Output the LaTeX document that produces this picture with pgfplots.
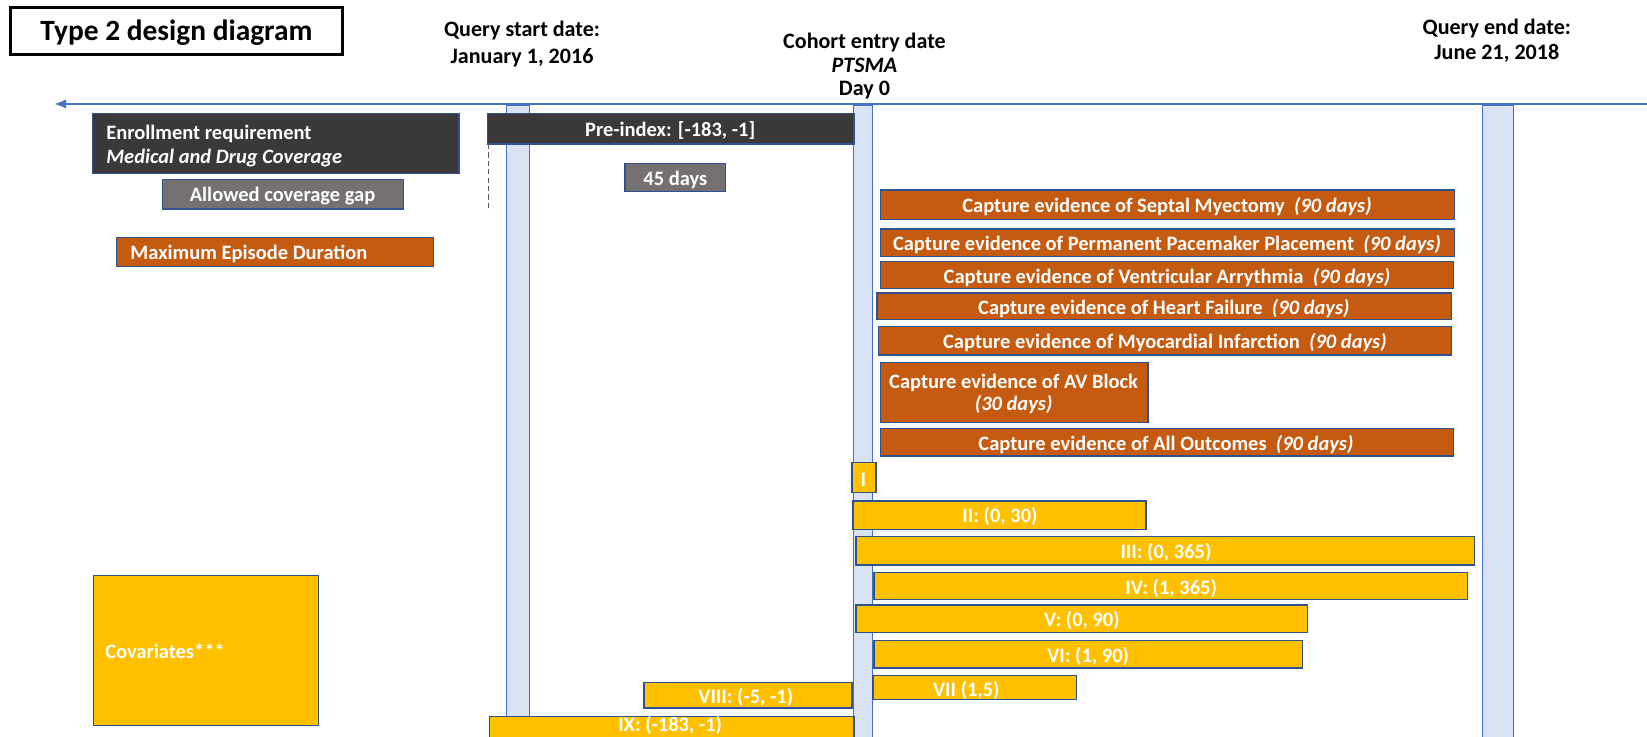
\documentclass[border=0pt]{standalone}
\usepackage{pgfplots}
\pgfplotsset{compat=1.18}
\usepackage{fontspec}
\setmainfont{Carlito}
\usetikzlibrary{arrows.meta}
\definecolor{orng}{HTML}{C55A11}
\definecolor{yel}{HTML}{FFC000}
\definecolor{dark}{HTML}{3B3838}
\definecolor{gry}{HTML}{767171}
\definecolor{lblue}{HTML}{DAE3F3}
\definecolor{blu}{HTML}{4472C4}
\definecolor{bord}{HTML}{2F528F}
\newcommand{\rbox}[5]{\addplot[draw=bord, line width=1.2pt, fill=#5, line join=miter] coordinates {(#1,#2) (#3,#2) (#3,#4) (#1,#4)} -- cycle;}
\tikzset{
  hdr/.style={font=\bfseries\fontsize{21}{26}\selectfont, align=center, text=black, inner sep=0pt},
  bt/.style={font=\bfseries\fontsize{19.5}{22}\selectfont, text=white, inner sep=0pt},
}
\begin{document}
\begin{tikzpicture}
\begin{axis}[width=1568pt, height=701pt, scale only axis,
  xmin=0, xmax=1568, ymin=0, ymax=701, y dir=reverse,
  hide axis, clip=false, no markers]
% timeline arrow
\addplot[blu, line width=1.1pt, -{Latex[length=11pt,width=9pt]}] coordinates {(1568,99) (52,99)};
% vertical bars
\addplot[draw=blu, line width=1pt, fill=lblue] coordinates {(482,100) (504,100) (504,712) (482,712)} -- cycle;
\addplot[draw=blu, line width=1pt, fill=lblue] coordinates {(813,100) (831,100) (831,712) (813,712)} -- cycle;
\addplot[draw=blu, line width=1pt, fill=lblue] coordinates {(1411,100) (1441,100) (1441,712) (1411,712)} -- cycle;
% title box
\addplot[draw=black, line width=2.6pt, fill=white, line join=miter] coordinates {(10,7) (326,7) (326,52) (10,52)} -- cycle;
% enrollment etc
\rbox{88}{108}{437}{165}{dark}
\rbox{464}{108}{813}{137}{dark}
\rbox{155}{171}{384}{199}{gry}
\rbox{595}{156}{691}{182}{gry}
\addplot[black!65, line width=1.5pt, dash pattern=on 5pt off 3pt] coordinates {(465,137) (465,201)};
\rbox{111}{226}{413}{254}{orng}
% outcomes
\rbox{838}{181}{1385}{209}{orng}
\rbox{838}{218}{1385}{244}{orng}
\rbox{838}{249}{1384}{275}{orng}
\rbox{835}{279}{1382}{304}{orng}
\rbox{836}{311}{1382}{338}{orng}
\rbox{838}{345}{1093}{402}{orng}
\rbox{838}{408}{1384}{434}{orng}
% windows
\rbox{811}{440}{834}{469}{yel}
\rbox{812}{477}{1091}{504}{yel}
\rbox{815}{511}{1404}{538}{yel}
\rbox{832}{545}{1397}{571}{yel}
\rbox{815}{576}{1245}{602}{yel}
\rbox{832}{610}{1240}{636}{yel}
\rbox{831}{643}{1025}{666}{yel}
\rbox{613}{650}{811}{674}{yel}
\rbox{466}{682}{813}{712}{yel}
\rbox{89}{548}{303}{691}{yel}
% texts
\node[font=\bfseries\fontsize{28}{30}\selectfont, inner sep=0pt] at (axis cs:168,31) {Type 2 design diagram};
\node[hdr] at (axis cs:497,42) {Query start date:\\January 1, 2016};
\node[hdr, font=\bfseries\fontsize{21}{22.5}\selectfont] at (axis cs:823,63) {Cohort entry date\\\textit{PTSMA}\\Day 0};
\node[hdr, font=\bfseries\fontsize{21}{23.5}\selectfont] at (axis cs:1425,39) {Query end date:\\June 21, 2018};
\node[bt, anchor=west, align=left] at (axis cs:101,139) {Enrollment requirement\\\textit{Medical and Drug Coverage}};
\node[bt] at (axis cs:638,124) {Pre-index: [-183, -1]};
\node[bt] at (axis cs:269,187) {Allowed coverage gap};
\node[bt] at (axis cs:643,171) {45 days};
\node[bt, anchor=west] at (axis cs:124,242) {Maximum Episode Duration};
\node[bt] at (axis cs:1111,197) {Capture evidence of Septal Myectomy\ \ \textit{(90 days)}};
\node[bt] at (axis cs:1111,233) {Capture evidence of Permanent Pacemaker Placement\ \ \textit{(90 days)}};
\node[bt] at (axis cs:1111,264) {Capture evidence of Ventricular Arrythmia\ \ \textit{(90 days)}};
\node[bt] at (axis cs:1108,294) {Capture evidence of Heart Failure\ \ \textit{(90 days)}};
\node[bt] at (axis cs:1109,326) {Capture evidence of Myocardial Infarction\ \ \textit{(90 days)}};
\node[bt, align=center, font=\bfseries\fontsize{19.5}{21}\selectfont] at (axis cs:965,375) {Capture evidence of AV Block\\\textit{(30 days)}};
\node[bt] at (axis cs:1110,423) {Capture evidence of All Outcomes\ \ \textit{(90 days)}};
\node[bt] at (axis cs:822,457) {I};
\node[bt] at (axis cs:952,492) {II: (0, 30)};
\node[bt] at (axis cs:1110,526) {III: (0, 365)};
\node[bt] at (axis cs:1115,560) {IV: (1, 365)};
\node[bt] at (axis cs:1030,591) {V: (0, 90)};
\node[bt] at (axis cs:1036,625) {VI: (1, 90)};
\node[bt] at (axis cs:920,657) {VII (1,5)};
\node[bt] at (axis cs:710,664) {VIII: (-5, -1)};
\node[bt] at (axis cs:638,691) {IX: (-183, -1)};
\node[bt, anchor=west] at (axis cs:100,620) {Covariates***};
\end{axis}
\pgfresetboundingbox
\useasboundingbox (current axis.south west) rectangle (current axis.north east);
\end{tikzpicture}
\end{document}
